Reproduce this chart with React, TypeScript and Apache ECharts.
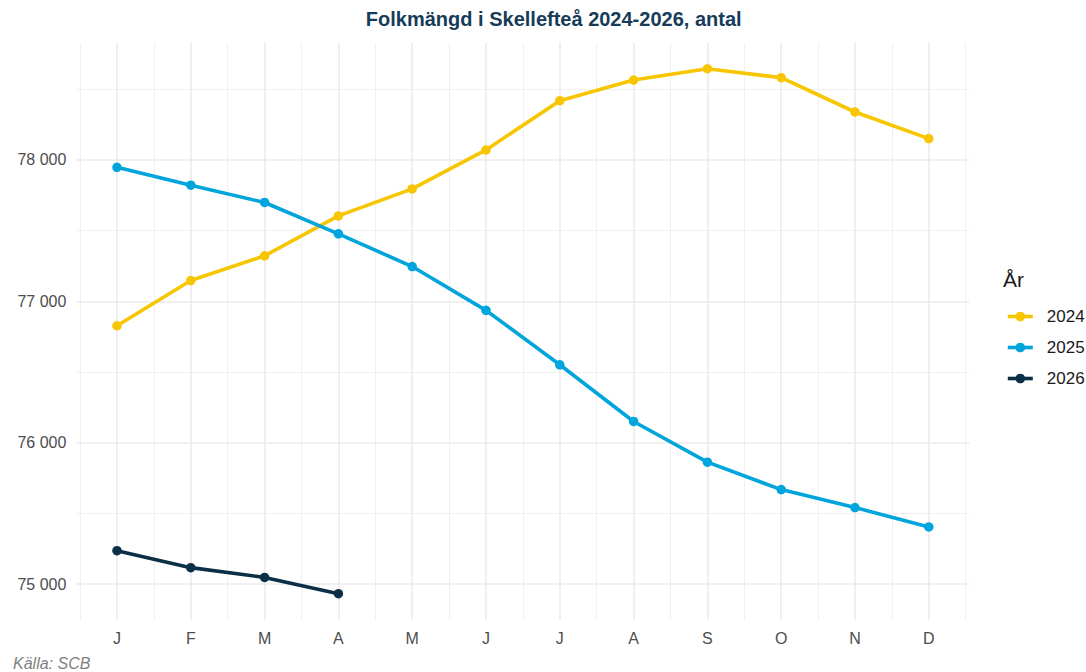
import React, { useEffect, useRef } from "react";
import * as echarts from "echarts";

const months = ["J", "F", "M", "A", "M", "J", "J", "A", "S", "O", "N", "D"];
const years = ["2024", "2025", "2026"];
const values2024 = [76827, 77147, 77322, 77604, 77795, 78071, 78419, 78565, 78645, 78582, 78339, 78151];
const values2025 = [77948, 77821, 77699, 77477, 77246, 76936, 76551, 76150, 75862, 75668, 75541, 75404];
const values2026 = [75236, 75116, 75047, 74932];
const yTicks = [75000, 76000, 77000, 78000];
const colors = ["#F7C600", "#00A5DC", "#0B2F47"];

const FONT = "'Liberation Sans', Arial, Helvetica, sans-serif";

export default function App() {
  const ref = useRef<HTMLDivElement>(null);

  useEffect(() => {
    if (!ref.current) return;
    const chart = echarts.init(ref.current, undefined, { renderer: "svg" });

    // panel in page pixels
    const PL = 76.4, PR = 969.4, PT = 42.5, PB = 619.9;
    const all = [...values2024, ...values2025, ...values2026];
    const dMin = Math.min(...all), dMax = Math.max(...all);
    const ySpan = dMax - dMin;
    const yMin = dMin - ySpan * 0.05, yMax = dMax + ySpan * 0.05;
    const xMin = 1 - 11 * 0.05, xMax = 12 + 11 * 0.05;
    const xpx = (x: number) => PL + ((x - xMin) / (xMax - xMin)) * (PR - PL);
    const ypx = (v: number) => PT + ((yMax - v) / (yMax - yMin)) * (PB - PT);

    const yMajMin = yTicks[0], yMajMax = yTicks[yTicks.length - 1];
    const fmt = (v: number) => String(Math.round(v)).replace(/\B(?=(\d{3})+(?!\d))/g, " ");

    const grids = [
      { left: PL, top: PT, width: PR - PL, height: PB - PT },
      { left: xpx(1), top: PT, width: xpx(12) - xpx(1), height: PB - PT },
      { left: xpx(0.5), top: PT, width: xpx(12.5) - xpx(0.5), height: PB - PT },
      { left: PL, top: ypx(yMajMax), width: PR - PL, height: ypx(yMajMin) - ypx(yMajMax) },
      { left: PL, top: ypx(yMajMax + 500), width: PR - PL, height: ypx(yMajMin + 500) - ypx(yMajMax + 500) },
    ].map((g) => ({ ...g, containLabel: false }));

    const hidden = {
      axisLine: { show: false },
      axisTick: { show: false },
      axisLabel: { show: false },
      splitLine: { show: false },
    };

    const xAxis: any[] = [
      { type: "value", gridIndex: 0, min: xMin, max: xMax, ...hidden },
      {
        type: "value", gridIndex: 1, min: 1, max: 12, interval: 1,
        axisLine: { show: false }, axisTick: { show: false },
        axisLabel: {
          show: true, margin: 11, fontSize: 16, color: "#4d4d4d", fontFamily: FONT,
          formatter: (v: number) => months[Math.round(v) - 1] ?? "",
        },
        splitLine: { show: true, lineStyle: { color: "#ebebeb", width: 1.6 } },
      },
      {
        type: "value", gridIndex: 2, min: 0.5, max: 12.5, interval: 1,
        axisLine: { show: false }, axisTick: { show: false }, axisLabel: { show: false },
        splitLine: { show: true, lineStyle: { color: "#f0f0f0", width: 1 } },
      },
      { type: "value", gridIndex: 3, ...hidden },
      { type: "value", gridIndex: 4, ...hidden },
    ];

    const yAxis: any[] = [
      { type: "value", gridIndex: 0, min: yMin, max: yMax, ...hidden },
      { type: "value", gridIndex: 1, ...hidden },
      { type: "value", gridIndex: 2, ...hidden },
      {
        type: "value", gridIndex: 3, min: yMajMin, max: yMajMax, interval: 1000,
        axisLine: { show: false }, axisTick: { show: false },
        axisLabel: {
          show: true, margin: 10, fontSize: 16, color: "#4d4d4d", fontFamily: FONT,
          formatter: (v: number) => fmt(v),
        },
        splitLine: { show: true, lineStyle: { color: "#ebebeb", width: 1.6 } },
      },
      {
        type: "value", gridIndex: 4, min: yMajMin + 500, max: yMajMax + 500, interval: 1000,
        axisLine: { show: false }, axisTick: { show: false }, axisLabel: { show: false },
        splitLine: { show: true, lineStyle: { color: "#f0f0f0", width: 1 } },
      },
    ];

    const seriesData = [values2024, values2025, values2026];
    const series = seriesData.map((vals, i) => ({
      name: years[i],
      type: "line",
      xAxisIndex: 0,
      yAxisIndex: 0,
      data: vals.map((v, j) => [j + 1, v]),
      symbol: "circle",
      symbolSize: 9.5,
      showSymbol: true,
      lineStyle: { color: colors[i], width: 3.6 },
      itemStyle: { color: colors[i] },
      z: 3 + i,
    }));

    chart.setOption({
      animation: false,
      backgroundColor: "#ffffff",
      textStyle: { fontFamily: FONT },
      grid: grids,
      xAxis,
      yAxis,
      series,
      legend: {
        orient: "vertical",
        left: 1001,
        top: 303,
        itemWidth: 25,
        itemHeight: 12,
        itemGap: 14,
        data: years,
        lineStyle: { width: 3.6 },
        textStyle: { fontSize: 17, color: "#1a1a1a", fontFamily: FONT, padding: [0, 0, 0, 9] },
      },
      graphic: [
        {
          type: "text",
          x: 553.7,
          y: 19,
          style: {
            text: "Folkmängd i Skellefteå 2024-2026, antal",
            fontSize: 20,
            fontWeight: "bold",
            fontFamily: FONT,
            fill: "#173c5a",
            textAlign: "center",
            textVerticalAlign: "middle",
          },
        },
        {
          type: "text",
          x: 1003,
          y: 279,
          style: {
            text: "År",
            fontSize: 21,
            fontFamily: FONT,
            fill: "#1a1a1a",
            textAlign: "left",
            textVerticalAlign: "middle",
          },
        },
        {
          type: "text",
          x: 13,
          y: 663,
          style: {
            text: "Källa: SCB",
            fontSize: 16,
            fontStyle: "italic",
            fontFamily: FONT,
            fill: "#7f7f7f",
            textAlign: "left",
            textVerticalAlign: "middle",
          },
        },
      ],
    });

    return () => chart.dispose();
  }, []);

  return (
    <div
      ref={ref}
      style={{ position: "fixed", left: 0, top: 0, width: 1086, height: 672 }}
    />
  );
}
